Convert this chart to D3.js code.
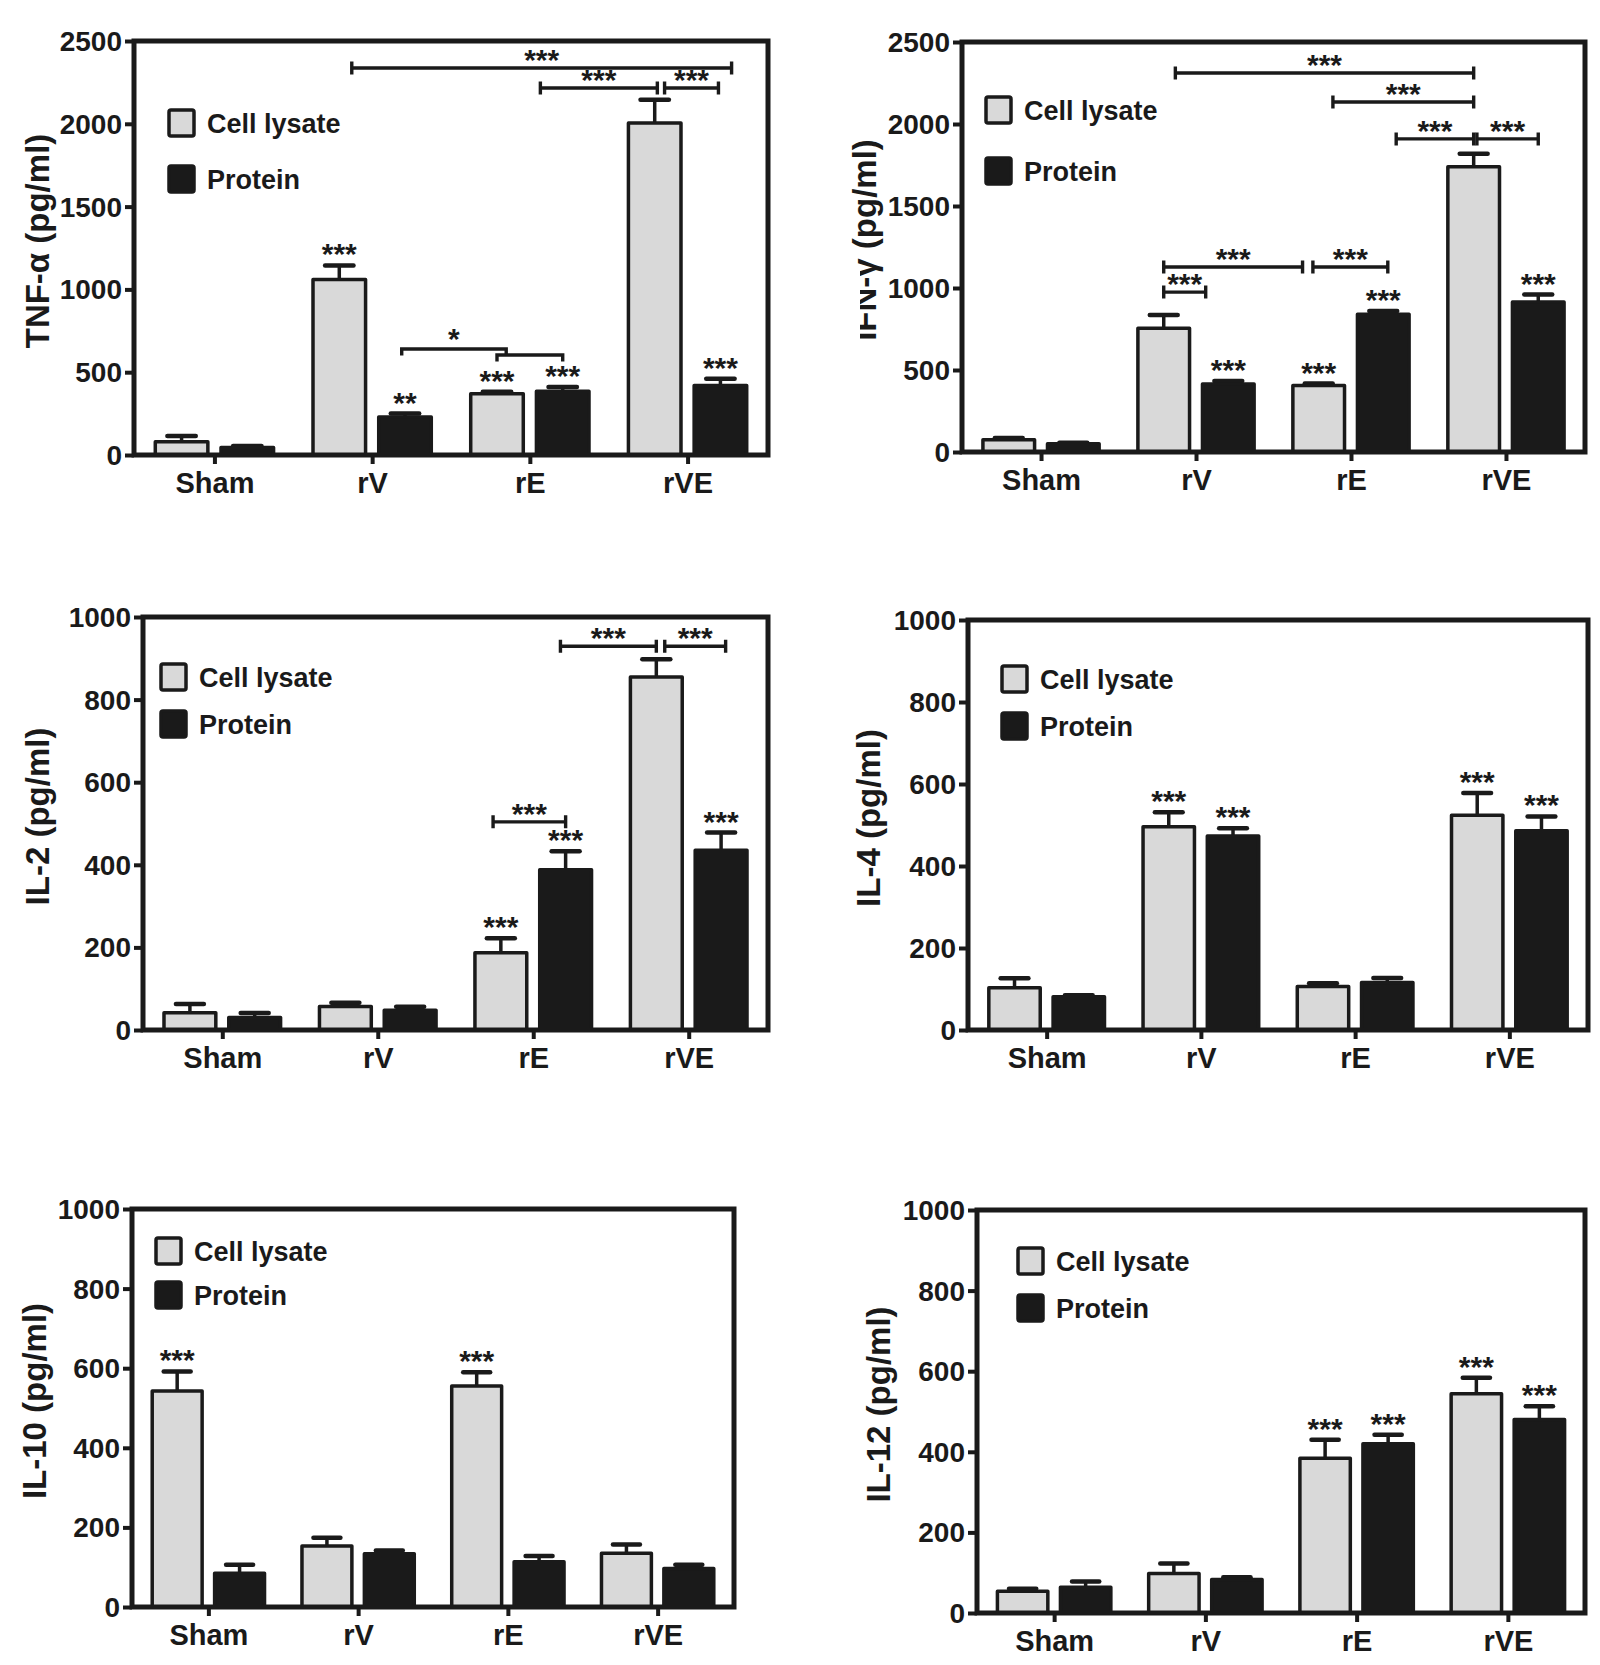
<!DOCTYPE html>
<html>
<head>
<meta charset="utf-8">
<script src="https://cdn.jsdelivr.net/npm/d3@7"></script>
<style>
  html, body { margin: 0; padding: 0; background: #ffffff; }
  svg { display: block; }
  text { font-family: "Liberation Sans", Arial, Helvetica, sans-serif; fill: #1a1a1a; }
</style>
</head>
<body>
<svg id="chart" width="1600" height="1665"></svg>
<script>
// ---------------- DATA ----------------
const categories = ["Sham", "rV", "rE", "rVE"];
const seriesNames = ["Cell lysate", "Protein"];

// TNF-alpha
const tnfCell = [80, 1060, 370, 2005];
const tnfCellErr = [35, 85, 12, 140];
const tnfProt = [45, 230, 385, 420];
const tnfProtErr = [10, 20, 25, 40];
const tnfTicks = [0, 500, 1000, 1500, 2000, 2500];

// IFN-gamma
const ifnCell = [75, 755, 405, 1740];
const ifnCellErr = [10, 80, 12, 78];
const ifnProt = [51, 415, 840, 915];
const ifnProtErr = [6, 18, 20, 45];
const ifnTicks = [0, 500, 1000, 1500, 2000, 2500];

// IL-2
const il2Cell = [42, 57, 187, 855];
const il2CellErr = [21, 9, 35, 43];
const il2Prot = [30, 48, 388, 435];
const il2ProtErr = [11, 8, 45, 43];

// IL-4
const il4Cell = [103, 496, 106, 524];
const il4CellErr = [23, 35, 8, 54];
const il4Prot = [81, 473, 116, 486];
const il4ProtErr = [4, 19, 11, 35];

// IL-10
const il10Cell = [543, 153, 555, 135];
const il10CellErr = [49, 21, 35, 22];
const il10Prot = [85, 134, 114, 97];
const il10ProtErr = [21, 8, 14, 9];

// IL-12
const il12Cell = [54, 98, 384, 544];
const il12CellErr = [6, 25, 46, 40];
const il12Prot = [64, 83, 420, 480];
const il12ProtErr = [14, 6, 22, 33];

const ilTicks = [0, 200, 400, 600, 800, 1000];

// significance marks above single bars: [category, seriesIndex, label]
const tnfStars = [["rV", 0, "***"], ["rV", 1, "**"], ["rE", 0, "***"], ["rE", 1, "***"], ["rVE", 1, "***"]];
const ifnStars = [["rV", 1, "***"], ["rE", 0, "***"], ["rE", 1, "***"], ["rVE", 1, "***"]];
const il2Stars = [["rE", 0, "***"], ["rE", 1, "***"], ["rVE", 1, "***"]];
const il4Stars = [["rV", 0, "***"], ["rV", 1, "***"], ["rVE", 0, "***"], ["rVE", 1, "***"]];
const il10Stars = [["Sham", 0, "***"], ["rE", 0, "***"]];
const il12Stars = [["rE", 0, "***"], ["rE", 1, "***"], ["rVE", 0, "***"], ["rVE", 1, "***"]];

// comparison brackets: [fromCategory, fromOffset, toCategory, toOffset, value, label, style]
// offset: -0.5 = cell lysate bar centre, +0.5 = protein bar centre
const tnfBrackets = [
  ["rV", -0.31, "rVE", 0.67, 2337, "***", "h"],
  ["rE", 0.16, "rVE", -0.46, 2216, "***", "h"],
  ["rVE", -0.35, "rVE", 0.47, 2216, "***", "h"],
  ["rV", 0.45, "rE", -0.36, 640, "*", "down"],
  ["rE", -0.5, "rE", 0.5, 604, "", "down"]
];
const ifnBrackets = [
  ["rV", -0.32, "rVE", -0.5, 2311, "***", "h"],
  ["rE", -0.28, "rVE", -0.5, 2134, "***", "h"],
  ["rE", 0.7, "rVE", -0.5, 1909, "***", "h"],
  ["rVE", -0.45, "rVE", 0.5, 1909, "***", "h"],
  ["rV", -0.5, "rV", 0.15, 975, "***", "h"],
  ["rV", -0.5, "rE", -0.75, 1128, "***", "h"],
  ["rE", -0.59, "rE", 0.57, 1128, "***", "h"]
];
const il2Brackets = [
  ["rE", -0.62, "rE", 0.5, 504, "***", "h"],
  ["rE", 0.42, "rVE", -0.5, 929, "***", "h"],
  ["rVE", -0.37, "rVE", 0.57, 929, "***", "h"]
];

// ---------------- LAYOUT ----------------
const panels = [
  { title: "TNF-α (pg/ml)", max: 2500, ticks: tnfTicks,
    cell: tnfCell, cellErr: tnfCellErr, prot: tnfProt, protErr: tnfProtErr,
    stars: tnfStars, brackets: tnfBrackets,
    box: { l: 134, r: 768, t: 41, b: 455 }, titleX: 49, legend: { x: 169, y: 110, dy: 56 } },
  { title: "IFN-γ (pg/ml)", max: 2500, ticks: ifnTicks,
    cell: ifnCell, cellErr: ifnCellErr, prot: ifnProt, protErr: ifnProtErr,
    stars: ifnStars, brackets: ifnBrackets, clipTitle: true,
    box: { l: 962, r: 1585, t: 42, b: 452 }, titleX: 876, legend: { x: 986, y: 97, dy: 61 } },
  { title: "IL-2 (pg/ml)", max: 1000, ticks: ilTicks,
    cell: il2Cell, cellErr: il2CellErr, prot: il2Prot, protErr: il2ProtErr,
    stars: il2Stars, brackets: il2Brackets,
    box: { l: 143, r: 768, t: 617, b: 1030 }, titleX: 49, legend: { x: 161, y: 664, dy: 47 } },
  { title: "IL-4 (pg/ml)", max: 1000, ticks: ilTicks,
    cell: il4Cell, cellErr: il4CellErr, prot: il4Prot, protErr: il4ProtErr,
    stars: il4Stars, brackets: [],
    box: { l: 968, r: 1588, t: 620, b: 1030 }, titleX: 880, legend: { x: 1002, y: 666, dy: 47 } },
  { title: "IL-10 (pg/ml)", max: 1000, ticks: ilTicks,
    cell: il10Cell, cellErr: il10CellErr, prot: il10Prot, protErr: il10ProtErr,
    stars: il10Stars, brackets: [],
    box: { l: 132, r: 734, t: 1209, b: 1607 }, titleX: 46, legend: { x: 156, y: 1238, dy: 44 } },
  { title: "IL-12 (pg/ml)", max: 1000, ticks: ilTicks,
    cell: il12Cell, cellErr: il12CellErr, prot: il12Prot, protErr: il12ProtErr,
    stars: il12Stars, brackets: [],
    box: { l: 977, r: 1585, t: 1210, b: 1613 }, titleX: 890, legend: { x: 1018, y: 1248, dy: 47 } }
];

const INK = "#1a1a1a";
const GREY = "#d9d9d9";
const STAR_SIZE = 30;
const svg = d3.select("#chart");

panels.forEach(p => {
  const B = p.box;
  const g = svg.append("g");

  const x = d3.scalePoint().domain(categories).range([B.l, B.r]).padding(0.51);
  const groupW = x.step() * 0.75;
  const xi = d3.scaleBand().domain(seriesNames).range([-groupW / 2, groupW / 2]).paddingInner(0.2);
  const innerStep = xi.step();
  const y = d3.scaleLinear().domain([0, p.max]).range([B.b, B.t]);

  const rows = [];
  categories.forEach((c, i) => {
    rows.push({ cat: c, s: 0, v: p.cell[i], e: p.cellErr[i] });
    rows.push({ cat: c, s: 1, v: p.prot[i], e: p.protErr[i] });
  });
  const barX = d => x(d.cat) + xi(seriesNames[d.s]);
  const barC = d => barX(d) + xi.bandwidth() / 2;

  // error bars (upper only)
  const eg = g.append("g");
  eg.selectAll("line.v").data(rows).join("line")
    .attr("x1", barC).attr("x2", barC)
    .attr("y1", d => y(d.v)).attr("y2", d => y(d.v + d.e))
    .attr("stroke", INK).attr("stroke-width", 3.5);
  eg.selectAll("line.cap").data(rows).join("line")
    .attr("x1", d => barC(d) - xi.bandwidth() * 0.27)
    .attr("x2", d => barC(d) + xi.bandwidth() * 0.27)
    .attr("y1", d => y(d.v + d.e)).attr("y2", d => y(d.v + d.e))
    .attr("stroke", INK).attr("stroke-width", 4.5).attr("stroke-linecap", "round");

  // bars
  g.append("g").selectAll("rect").data(rows).join("rect")
    .attr("x", barX).attr("width", xi.bandwidth())
    .attr("y", d => y(d.v)).attr("height", d => y(0) - y(d.v))
    .attr("fill", d => d.s === 0 ? GREY : INK)
    .attr("stroke", INK).attr("stroke-width", 3.5).attr("stroke-linejoin", "round");

  // stars over bars
  const byKey = {};
  rows.forEach(r => byKey[r.cat + "|" + r.s] = r);
  g.append("g").selectAll("text").data(p.stars).join("text")
    .attr("x", d => barC(byKey[d[0] + "|" + d[1]]))
    .attr("y", d => { const r = byKey[d[0] + "|" + d[1]]; return y(r.v + r.e) - 1; })
    .attr("text-anchor", "middle")
    .attr("font-size", STAR_SIZE).attr("font-weight", "bold")
    .text(d => d[2]);

  // brackets
  const bg = g.append("g");
  p.brackets.forEach(b => {
    const x1 = x(b[0]) + b[1] * innerStep;
    const x2 = x(b[2]) + b[3] * innerStep;
    const yy = y(b[4]);
    let d;
    if (b[6] === "h") {
      d = `M${x1},${yy}H${x2}M${x1},${yy - 6.5}V${yy + 6.5}M${x2},${yy - 6.5}V${yy + 6.5}`;
    } else {
      d = `M${x1},${yy + 6.5}V${yy}H${x2}V${yy + 6.5}`;
    }
    bg.append("path").attr("d", d).attr("fill", "none")
      .attr("stroke", INK).attr("stroke-width", 3.4);
    if (b[5]) {
      bg.append("text").attr("x", (x1 + x2) / 2).attr("y", yy + (b[6] === "h" ? 2 : 0))
        .attr("text-anchor", "middle").attr("font-size", STAR_SIZE).attr("font-weight", "bold")
        .text(b[5]);
    }
  });

  // frame
  g.append("rect").attr("x", B.l).attr("y", B.t)
    .attr("width", B.r - B.l).attr("height", B.b - B.t)
    .attr("fill", "none").attr("stroke", INK).attr("stroke-width", 5);

  // y axis
  const ya = g.append("g").attr("transform", `translate(${B.l},0)`)
    .call(d3.axisLeft(y).tickValues(p.ticks).tickSize(9).tickPadding(3).tickFormat(d3.format("d")));
  ya.select(".domain").remove();
  ya.selectAll(".tick line").attr("stroke", INK).attr("stroke-width", 4);
  ya.selectAll(".tick text").attr("font-size", 28).attr("font-weight", "bold")
    .attr("fill", INK).attr("font-family", "Liberation Sans, Arial, sans-serif").attr("dy", "0.34em");

  // x axis
  const xa = g.append("g").attr("transform", `translate(0,${B.b})`)
    .call(d3.axisBottom(x).tickSize(9).tickPadding(8));
  xa.select(".domain").remove();
  xa.selectAll(".tick line").attr("stroke", INK).attr("stroke-width", 4);
  xa.selectAll(".tick text").attr("font-size", 29).attr("font-weight", "bold")
    .attr("fill", INK).attr("font-family", "Liberation Sans, Arial, sans-serif");

  // axis title
  const ty = (B.t + B.b) / 2 - 7;
  g.append("text")
    .attr("transform", `translate(${p.titleX},${ty}) rotate(-90)`)
    .attr("text-anchor", "middle").attr("font-size", 33).attr("font-weight", "bold")
    .text(p.title);
  if (p.clipTitle) {
    // the reference shows the tops of the "IFN" letters cut away
    const len = 197;
    g.append("rect").attr("x", p.titleX - 40).attr("y", ty + len / 2 - 70)
      .attr("width", 24).attr("height", 72).attr("fill", "#ffffff");
  }

  // legend
  const L = p.legend;
  seriesNames.forEach((name, i) => {
    const yy = L.y + i * L.dy;
    g.append("rect").attr("x", L.x).attr("y", yy).attr("width", 25).attr("height", 26)
      .attr("rx", 2).attr("fill", i === 0 ? GREY : INK)
      .attr("stroke", INK).attr("stroke-width", 3.5);
    g.append("text").attr("x", L.x + 38).attr("y", yy + 13).attr("dy", "0.36em")
      .attr("font-size", 27).attr("font-weight", "bold").text(name);
  });
});
</script>
</body>
</html>
